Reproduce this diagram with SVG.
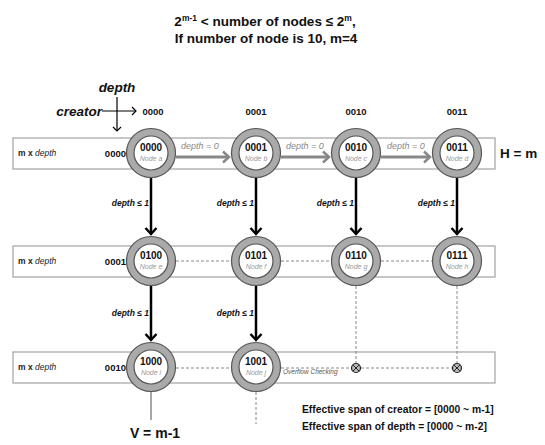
<svg xmlns="http://www.w3.org/2000/svg" width="545" height="445" viewBox="0 0 545 445">
<defs>
<style>
text{font-family:"Liberation Sans",Arial,sans-serif}
.b{font-weight:bold}
.bi{font-weight:bold;font-style:italic}
.row{fill:#fff;stroke:#aaa;stroke-width:1.3}
.ring{fill:#aaa;stroke:#555;stroke-width:1.2}
.in{fill:#fff;stroke:#555;stroke-width:1.2}
.nid{font-size:10px;font-weight:bold;text-anchor:middle;fill:#111}
.nname{font-size:7px;font-style:italic;text-anchor:middle;fill:#999}
.hdr{font-size:9.5px;font-weight:bold;text-anchor:middle;fill:#111}
.rl{font-size:8.5px;fill:#222}
.rn{font-size:9.5px;font-weight:bold;text-anchor:end;fill:#111}
.dl{font-size:8.5px;font-weight:bold;font-style:italic;text-anchor:end;fill:#111}
.g0{font-size:9px;font-style:italic;fill:#888;text-anchor:middle}
.va{stroke:#000;stroke-width:2.5;fill:none}
.ha{stroke:#888;stroke-width:3;fill:none}
.dash{stroke:#888;stroke-width:1;stroke-dasharray:3,2;fill:none}
</style>
<marker id="ab" markerUnits="userSpaceOnUse" markerWidth="14" markerHeight="14" refX="7" refY="7" orient="auto">
<path d="M1,1.5 L7,7 L1,12.5" fill="none" stroke="#000" stroke-width="2.5"/>
</marker>
<marker id="ag" markerUnits="userSpaceOnUse" markerWidth="14" markerHeight="14" refX="7" refY="7" orient="auto">
<path d="M1,1.5 L7,7 L1,12.5" fill="none" stroke="#888" stroke-width="2.5"/>
</marker>
<marker id="at" markerUnits="userSpaceOnUse" markerWidth="10" markerHeight="10" refX="5" refY="5" orient="auto">
<path d="M1,1 L5,5 L1,9" fill="none" stroke="#000" stroke-width="1.2"/>
</marker>
</defs>

<g id="title" class="b" font-size="13.5" fill="#111">
<text x="265" y="26" text-anchor="middle">2<tspan font-size="8.5" dy="-5.5">m-1</tspan><tspan dy="5.5"> &lt; number of nodes ≤ 2</tspan><tspan font-size="8.5" dy="-5.5">m</tspan><tspan dy="5.5">,</tspan></text>
<text x="266" y="43" text-anchor="middle">If number of node is 10, m=4</text>
</g>

<g id="axes">
<text x="117" y="92" class="bi" font-size="13.5" text-anchor="middle" fill="#111">depth</text>
<text x="102" y="115.5" class="bi" font-size="13.5" text-anchor="end" fill="#111">creator</text>
<line x1="102" y1="111" x2="136" y2="111" stroke="#000" stroke-width="1.2" marker-end="url(#at)"/>
<line x1="117" y1="97" x2="117" y2="131" stroke="#000" stroke-width="1.2" marker-end="url(#at)"/>
</g>

<g id="headers">
<text x="153" y="114.5" class="hdr">0000</text>
<text x="256" y="114.5" class="hdr">0001</text>
<text x="356" y="114.5" class="hdr">0010</text>
<text x="457" y="114.5" class="hdr">0011</text>
</g>

<g id="row1">
<rect x="13" y="138" width="482" height="31" class="row"/>
<text x="18" y="156" class="rl"><tspan font-weight="bold">m x </tspan><tspan font-style="italic">depth</tspan></text>
<text x="126" y="157" class="rn">0000</text>
</g>
<g id="row2">
<rect x="13" y="246" width="482" height="31" class="row"/>
<text x="18" y="264" class="rl"><tspan font-weight="bold">m x </tspan><tspan font-style="italic">depth</tspan></text>
<text x="126" y="265" class="rn">0001</text>
</g>
<g id="row3">
<rect x="13" y="352" width="482" height="31" class="row"/>
<text x="18" y="370" class="rl"><tspan font-weight="bold">m x </tspan><tspan font-style="italic">depth</tspan></text>
<text x="126" y="371" class="rn">0010</text>
</g>

<text x="500" y="158" class="b" font-size="13.5" fill="#111">H = m</text>

<g id="connectors">
<line x1="176" y1="157" x2="229" y2="157" class="ha" marker-end="url(#ag)"/>
<line x1="281" y1="157" x2="329" y2="157" class="ha" marker-end="url(#ag)"/>
<line x1="381" y1="157" x2="430" y2="157" class="ha" marker-end="url(#ag)"/>
<text x="200" y="149" class="g0">depth = 0</text>
<text x="305" y="149" class="g0">depth = 0</text>
<text x="406" y="149" class="g0">depth = 0</text>

<line x1="151" y1="178" x2="151" y2="234" class="va" marker-end="url(#ab)"/>
<line x1="256" y1="178" x2="256" y2="234" class="va" marker-end="url(#ab)"/>
<line x1="356" y1="178" x2="356" y2="234" class="va" marker-end="url(#ab)"/>
<line x1="457" y1="178" x2="457" y2="234" class="va" marker-end="url(#ab)"/>
<text x="149" y="206" class="dl">depth ≤ 1</text>
<text x="254" y="206" class="dl">depth ≤ 1</text>
<text x="354" y="206" class="dl">depth ≤ 1</text>
<text x="455" y="206" class="dl">depth ≤ 1</text>

<line x1="176" y1="261" x2="231" y2="261" class="dash"/>
<line x1="281" y1="261" x2="331" y2="261" class="dash"/>
<line x1="381" y1="261" x2="432" y2="261" class="dash"/>

<line x1="151" y1="286" x2="151" y2="340" class="va" marker-end="url(#ab)"/>
<line x1="256" y1="286" x2="256" y2="340" class="va" marker-end="url(#ab)"/>
<text x="149" y="316" class="dl">depth ≤ 1</text>
<text x="254" y="316" class="dl">depth ≤ 1</text>

<line x1="356" y1="286" x2="356" y2="364" class="dash"/>
<line x1="457" y1="286" x2="457" y2="364" class="dash"/>

<line x1="176" y1="368" x2="231" y2="368" class="dash"/>
<line x1="281" y1="368" x2="351" y2="368" class="dash"/>
<line x1="361" y1="368" x2="452" y2="368" class="dash"/>
<text x="283" y="374" font-size="6.5" font-style="italic" fill="#555">Overflow Checking</text>

<line x1="151" y1="392" x2="151" y2="420" stroke="#888" stroke-width="1.5"/>
<line x1="256" y1="392" x2="256" y2="424" class="dash"/>
</g>

<g id="x1">
<circle cx="356" cy="368" r="4.5" fill="#bbb" stroke="#222" stroke-width="1.2"/>
<path d="M353,365 L359,371 M359,365 L353,371" stroke="#222" stroke-width="1"/>
</g>
<g id="x2">
<circle cx="457" cy="368" r="4.5" fill="#bbb" stroke="#222" stroke-width="1.2"/>
<path d="M454,365 L460,371 M460,365 L454,371" stroke="#222" stroke-width="1"/>
</g>

<g id="node-a"><circle cx="151" cy="153" r="24.5" class="ring"/><circle cx="151" cy="153" r="17" class="in"/><text x="151" y="151" class="nid">0000</text><text x="151" y="161" class="nname">Node a</text></g>
<g id="node-b"><circle cx="256" cy="153" r="24.5" class="ring"/><circle cx="256" cy="153" r="17" class="in"/><text x="256" y="151" class="nid">0001</text><text x="256" y="161" class="nname">Node b</text></g>
<g id="node-c"><circle cx="356" cy="153" r="24.5" class="ring"/><circle cx="356" cy="153" r="17" class="in"/><text x="356" y="151" class="nid">0010</text><text x="356" y="161" class="nname">Node c</text></g>
<g id="node-d"><circle cx="457" cy="153" r="24.5" class="ring"/><circle cx="457" cy="153" r="17" class="in"/><text x="457" y="151" class="nid">0011</text><text x="457" y="161" class="nname">Node d</text></g>

<g id="node-e"><circle cx="151" cy="261" r="24.5" class="ring"/><circle cx="151" cy="261" r="17" class="in"/><text x="151" y="259" class="nid">0100</text><text x="151" y="269" class="nname">Node e</text></g>
<g id="node-f"><circle cx="256" cy="261" r="24.5" class="ring"/><circle cx="256" cy="261" r="17" class="in"/><text x="256" y="259" class="nid">0101</text><text x="256" y="269" class="nname">Node f</text></g>
<g id="node-g"><circle cx="356" cy="261" r="24.5" class="ring"/><circle cx="356" cy="261" r="17" class="in"/><text x="356" y="259" class="nid">0110</text><text x="356" y="269" class="nname">Node g</text></g>
<g id="node-h"><circle cx="457" cy="261" r="24.5" class="ring"/><circle cx="457" cy="261" r="17" class="in"/><text x="457" y="259" class="nid">0111</text><text x="457" y="269" class="nname">Node h</text></g>

<g id="node-i"><circle cx="151" cy="367" r="24.5" class="ring"/><circle cx="151" cy="367" r="17" class="in"/><text x="151" y="365" class="nid">1000</text><text x="151" y="375" class="nname">Node i</text></g>
<g id="node-j"><circle cx="256" cy="367" r="24.5" class="ring"/><circle cx="256" cy="367" r="17" class="in"/><text x="256" y="365" class="nid">1001</text><text x="256" y="375" class="nname">Node j</text></g>

<text x="155" y="438" class="b" font-size="14" text-anchor="middle" fill="#111">V = m-1</text>
<g id="notes" class="b" font-size="10.3" fill="#111">
<text x="302" y="413">Effective span of creator = [0000 ~ m-1]</text>
<text x="302" y="430">Effective span of depth = [0000 ~ m-2]</text>
</g>
</svg>
